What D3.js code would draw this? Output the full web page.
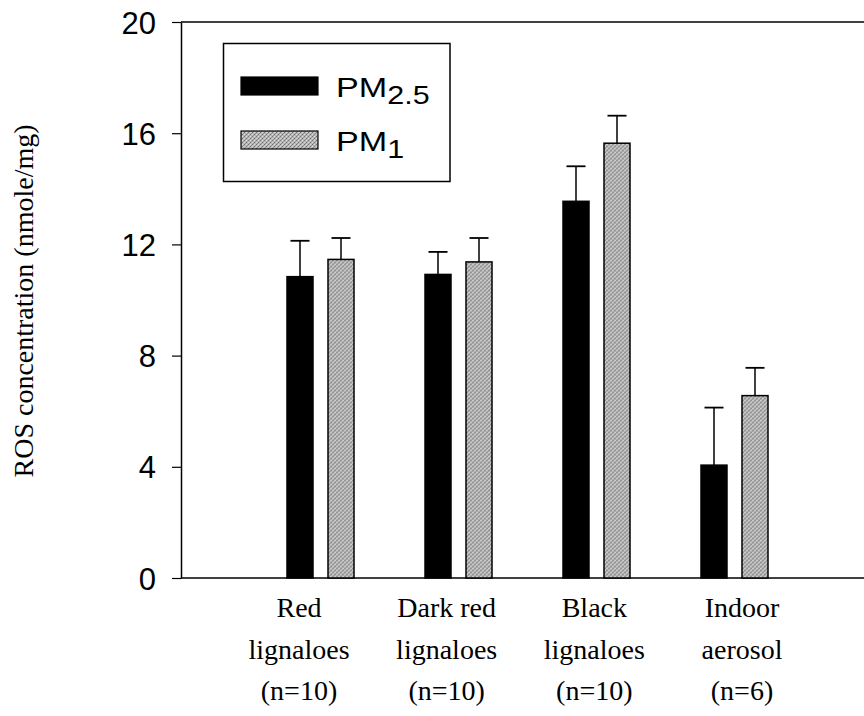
<!DOCTYPE html>
<html>
<head>
<meta charset="utf-8">
<script src="https://cdn.jsdelivr.net/npm/d3@7"></script>
<style>
  body { margin: 0; background: #fff; }
  svg { display: block; }
  .serif { font-family: 'Liberation Serif', 'DejaVu Serif', serif; }
  .sans { font-family: 'Liberation Sans', Arial, sans-serif; }
</style>
</head>
<body>
<svg id="chart" width="864" height="716"></svg>
<script>
// values
const categories = ['Red lignaloes', 'Dark red lignaloes', 'Black lignaloes', 'Indoor aerosol'];
const categoryLines = [
    ['Red', 'lignaloes', '(n=10)'],
    ['Dark red', 'lignaloes', '(n=10)'],
    ['Black', 'lignaloes', '(n=10)'],
    ['Indoor', 'aerosol', '(n=6)']
];
const seriesKeys = ['PM2.5', 'PM1'];
const pm25 = [10.84, 10.92, 13.55, 4.06];
const pm25Err = [1.29, 0.81, 1.26, 2.07];
const pm1 = [11.46, 11.37, 15.64, 6.56];
const pm1Err = [0.77, 0.86, 0.99, 1.0];
const yTicks = [0, 4, 8, 12, 16, 20];

const svg = d3.select('#chart');
const width = 864;

// pattern for the stippled grey bars
const defs = svg.append('defs');
const pat = defs.append('pattern')
    .attr('id', 'stipple')
    .attr('width', 4).attr('height', 4)
    .attr('patternUnits', 'userSpaceOnUse');
pat.append('rect').attr('width', 4).attr('height', 4).attr('fill', '#b8b8b8');
[[0, 0, '#707070'], [2, 2, '#707070'], [2, 0, '#dcdcdc'], [0, 2, '#d6d6d6'], [1, 3, '#8c8c8c'], [3, 1, '#949494']]
    .forEach(([px, py, c]) => pat.append('rect').attr('x', px).attr('y', py).attr('width', 1).attr('height', 1).attr('fill', c));

const y = d3.scaleLinear().domain([0, 20]).range([578, 22]);
const x = d3.scalePoint().domain(categories).range([320.5, 734.5]);
// the category labels in the figure sit on a slightly wider spacing than the bars
const xLabel = d3.scalePoint().domain(categories).range([299, 742]);
const xSub = d3.scaleBand().domain(seriesKeys).range([-33.5, 33.5]).paddingInner(0.366);

const rows = categories.map((c, i) => ({
    cat: c,
    lines: categoryLines[i],
    vals: [
        {key: 'PM2.5', v: pm25[i], e: pm25Err[i]},
        {key: 'PM1', v: pm1[i], e: pm1Err[i]}
    ]
}));

// frame lines: top line and baseline
const x0 = 181;
svg.append('line').attr('x1', x0).attr('x2', width).attr('y1', y(20)).attr('y2', y(20))
    .attr('stroke', '#000').attr('stroke-width', 1.5);
svg.append('line').attr('x1', x0).attr('x2', width).attr('y1', y(0)).attr('y2', y(0))
    .attr('stroke', '#000').attr('stroke-width', 1.5);

const yAxis = svg.append('g')
    .attr('transform', `translate(${x0},0)`)
    .call(d3.axisLeft(y).tickValues(yTicks).tickSize(9).tickSizeOuter(0).tickPadding(16));
yAxis.attr('font-family', null).attr('font-size', null);
yAxis.select('.domain').attr('stroke-width', 1.5);
yAxis.selectAll('.tick line').attr('stroke-width', 1.2);
yAxis.selectAll('.tick text')
    .attr('class', 'sans')
    .attr('font-size', 31)
    .attr('fill', '#000')
    .attr('dy', '0.36em');

// y label
svg.append('text')
    .attr('class', 'serif')
    .attr('transform', 'translate(33,301) rotate(-90)')
    .attr('text-anchor', 'middle')
    .attr('font-size', 28)
    .text('ROS concentration (nmole/mg)');

// bars
const groups = svg.append('g').selectAll('g')
    .data(rows).enter().append('g')
    .attr('transform', d => `translate(${x(d.cat)},0)`);

groups.selectAll('line.err')
    .data(d => d.vals).enter().append('line')
    .attr('class', 'err')
    .attr('x1', d => xSub(d.key) + xSub.bandwidth() / 2)
    .attr('x2', d => xSub(d.key) + xSub.bandwidth() / 2)
    .attr('y1', d => y(d.v))
    .attr('y2', d => y(d.v + d.e))
    .attr('stroke', '#000').attr('stroke-width', 1.5);

groups.selectAll('line.cap')
    .data(d => d.vals).enter().append('line')
    .attr('class', 'cap')
    .attr('x1', d => xSub(d.key) + xSub.bandwidth() / 2 - 9.5)
    .attr('x2', d => xSub(d.key) + xSub.bandwidth() / 2 + 9.5)
    .attr('y1', d => y(d.v + d.e))
    .attr('y2', d => y(d.v + d.e))
    .attr('stroke', '#000').attr('stroke-width', 1.8);

groups.selectAll('rect')
    .data(d => d.vals).enter().append('rect')
    .attr('x', d => xSub(d.key))
    .attr('width', xSub.bandwidth())
    .attr('y', d => y(d.v))
    .attr('height', d => y(0) - y(d.v))
    .attr('fill', d => d.key === 'PM2.5' ? '#000' : 'url(#stipple)')
    .attr('stroke', '#000')
    .attr('stroke-width', 1.5);

// category labels
const labels = svg.append('g').selectAll('g')
    .data(rows).enter().append('g')
    .attr('transform', d => `translate(${xLabel(d.cat)},0)`);

labels.selectAll('text')
    .data(d => d.lines).enter().append('text')
    .attr('class', 'serif')
    .attr('text-anchor', 'middle')
    .attr('y', (d, i) => 617 + i * 41.5)
    .attr('font-size', 28)
    .text(d => d);

// legend
const legend = svg.append('g');
legend.append('rect')
    .attr('x', 223.5).attr('y', 43.5).attr('width', 226.5).attr('height', 138)
    .attr('fill', '#fff').attr('stroke', '#000').attr('stroke-width', 1.5);

const legendItems = [
    {fill: '#000', main: 'PM', sub: '2.5', y: 77},
    {fill: 'url(#stipple)', main: 'PM', sub: '1', y: 131}
];
legendItems.forEach(it => {
    legend.append('rect')
        .attr('x', 241).attr('y', it.y).attr('width', 77).attr('height', 18)
        .attr('fill', it.fill).attr('stroke', '#000').attr('stroke-width', 1.2);
    const t = legend.append('text')
        .attr('class', 'sans')
        .attr('transform', `translate(336,${it.y + 19.5}) scale(1.22,1)`)
        .attr('font-size', 28);
    t.append('tspan').text(it.main);
    t.append('tspan').attr('dy', 7).attr('font-size', 25).text(it.sub);
});
</script>
</body>
</html>
